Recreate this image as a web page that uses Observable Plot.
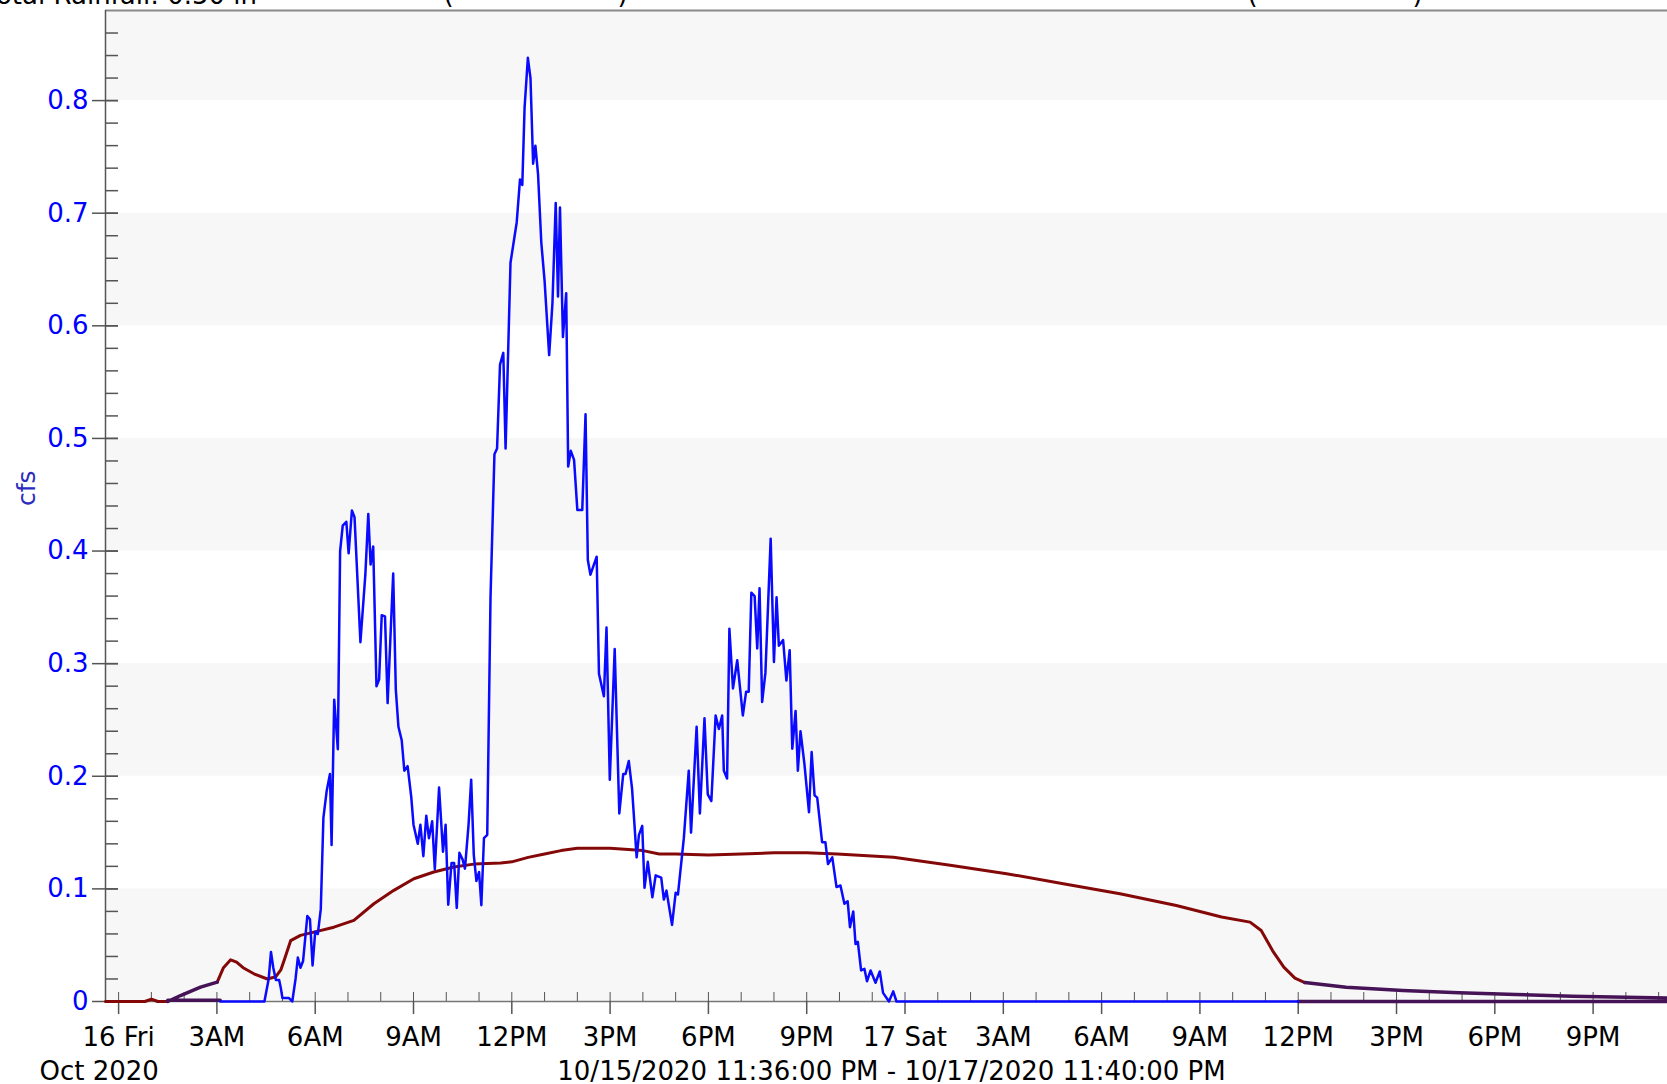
<!DOCTYPE html>
<html>
<head>
<meta charset="utf-8">
<script src="https://cdn.jsdelivr.net/npm/d3@7"></script>
<script src="https://cdn.jsdelivr.net/npm/@observablehq/plot@0.6"></script>
<style>
  html, body { margin: 0; padding: 0; background: #fff; overflow: hidden; }
  #chart { position: relative; width: 1667px; height: 1084px; }
</style>
</head>
<body>
<div id="chart"></div>
<script>
// ---- data (hours since 16 Oct 2020 00:00) ----
const flowHours = [3.1,4.45,4.58,4.65,4.72,4.80,4.90,4.95,5.0,5.2,5.30,5.40,5.47,5.55,5.63,5.76,5.84,5.92,6.0,6.08,6.17,6.25,6.35,6.45,6.50,6.58,6.69,6.76,6.84,6.95,7.02,7.12,7.20,7.38,7.53,7.62,7.69,7.77,7.87,7.95,8.03,8.13,8.21,8.31,8.38,8.46,8.54,8.64,8.72,8.82,8.93,9.0,9.13,9.21,9.30,9.39,9.47,9.57,9.65,9.78,9.90,9.98,10.06,10.16,10.24,10.32,10.40,10.50,10.57,10.68,10.76,10.84,10.92,11.0,11.07,11.15,11.25,11.35,11.47,11.55,11.64,11.74,11.81,11.96,12.15,12.25,12.32,12.39,12.49,12.57,12.65,12.72,12.8,12.9,13.0,13.14,13.24,13.34,13.41,13.47,13.56,13.66,13.72,13.80,13.9,14.0,14.15,14.25,14.32,14.40,14.59,14.66,14.81,14.89,14.99,15.14,15.28,15.40,15.47,15.57,15.67,15.81,15.88,15.98,16.05,16.15,16.29,16.39,16.56,16.64,16.72,16.89,17.0,17.07,17.25,17.40,17.47,17.64,17.74,17.88,17.98,18.09,18.22,18.32,18.42,18.47,18.57,18.64,18.75,18.88,19.05,19.15,19.23,19.31,19.41,19.49,19.56,19.64,19.74,19.9,20.0,20.08,20.15,20.28,20.38,20.48,20.56,20.66,20.73,20.81,20.93,21.07,21.15,21.24,21.32,21.47,21.57,21.65,21.78,21.91,22.03,22.15,22.25,22.32,22.42,22.49,22.56,22.66,22.76,22.84,22.95,23.1,23.23,23.33,23.51,23.64,23.74,36.0];
const flowCfs = [0,0,0.02,0.044,0.03,0.019,0.019,0.012,0.003,0.003,0,0.02,0.039,0.030,0.036,0.076,0.073,0.032,0.062,0.060,0.082,0.163,0.187,0.202,0.139,0.268,0.224,0.400,0.4225,0.426,0.398,0.436,0.430,0.319,0.379,0.433,0.388,0.404,0.280,0.286,0.343,0.342,0.265,0.333,0.380,0.277,0.244,0.232,0.205,0.209,0.182,0.157,0.140,0.157,0.129,0.165,0.145,0.160,0.1175,0.190,0.133,0.157,0.086,0.123,0.123,0.083,0.132,0.126,0.118,0.157,0.197,0.13,0.107,0.115,0.0855,0.145,0.148,0.359,0.486,0.491,0.5655,0.576,0.491,0.656,0.692,0.730,0.725,0.794,0.838,0.82,0.744,0.760,0.735,0.674,0.64,0.574,0.62,0.709,0.626,0.705,0.590,0.629,0.475,0.489,0.481,0.4365,0.4365,0.5215,0.392,0.379,0.395,0.291,0.271,0.332,0.197,0.313,0.167,0.202,0.202,0.2135,0.189,0.128,0.148,0.156,0.101,0.124,0.0926,0.112,0.110,0.0905,0.0985,0.068,0.0965,0.095,0.145,0.205,0.15,0.244,0.167,0.2515,0.184,0.178,0.254,0.242,0.254,0.205,0.198,0.331,0.278,0.303,0.254,0.275,0.275,0.363,0.360,0.3135,0.367,0.266,0.292,0.411,0.3015,0.359,0.316,0.321,0.285,0.312,0.2245,0.258,0.205,0.240,0.211,0.168,0.2215,0.183,0.181,0.1415,0.1415,0.122,0.128,0.1016,0.103,0.0868,0.089,0.066,0.080,0.051,0.053,0.0276,0.029,0.018,0.0276,0.0166,0.0267,0.0077,0,0.009,0,0];

const secondHours = [-0.4,0.8,1.0,1.2,1.5, NaN, 3.01,3.2,3.42,3.6,3.8,4.13,4.54,4.8,4.95,5.05,5.25,5.55,5.96,6.57,7.18,7.79,8.4,9.01,9.62,10.23,10.84,11.66,12.0,12.5,13,13.5,14,15,16,16.5,17,18,19,20,21,21.93,23.65,25.38,27.1,28.83,30.56,32.28,33.66,34.53,34.87,35.22,35.56,35.9,36.2];
const secondCfs = [0,0,0.002,0,0, NaN, 0.0172,0.03,0.037,0.035,0.03,0.0246,0.020,0.022,0.028,0.0364,0.054,0.0587,0.0616,0.066,0.072,0.0868,0.0987,0.109,0.115,0.1194,0.122,0.123,0.124,0.128,0.131,0.134,0.136,0.136,0.134,0.131,0.131,0.130,0.131,0.132,0.132,0.131,0.128,0.121,0.1135,0.1046,0.0957,0.0853,0.075,0.0705,0.063,0.045,0.0305,0.0207,0.0168];

const thirdHours = [1.5,1.89,2.5,3.01, NaN, 1.5,3.1, NaN, 36.2,37.46,39.19,40.91,42.64,44.36,47.3, NaN, 36.0,47.3];
const thirdCfs   = [0,0.0053,0.0127,0.0172, NaN, 0.001,0.001, NaN, 0.0168,0.0127,0.0098,0.0077,0.0062,0.0047,0.003, NaN, 0,0];

const yMajorTicks = [0,0.1,0.2,0.3,0.4,0.5,0.6,0.7,0.8];
const yMajorLabels = ["0","0.1","0.2","0.3","0.4","0.5","0.6","0.7","0.8"];
const yMinorTicks = d3.range(0, 0.87, 0.02).map(v => +v.toFixed(2));
const bandLow  = [0,0.2,0.4,0.6,0.8];
const bandHigh = [0.1,0.3,0.5,0.7,0.88];

const xMajorHours = [0,3,6,9,12,15,18,21,24,27,30,33,36,39,42,45];
const xMajorLabels = ["16 Fri","3AM","6AM","9AM","12PM","3PM","6PM","9PM","17 Sat","3AM","6AM","9AM","12PM","3PM","6PM","9PM"];
const xMinorHours = d3.range(0, 48, 1);

const startHour = -0.4, endHour = 47.27, yTop = 0.88;
const dateRange = "10/15/2020 11:36:00 PM - 10/17/2020 11:40:00 PM";
const monthLabel = "Oct 2020";
const unitLabel = "cfs";
const topLeftText = "Total Rainfall: 0.50 in";
const topBrackets = ["(", ")", "(", ")"];
const topBracketX = [443, 617, 1247, 1412];

// ---- build ----
const base = Date.UTC(2020, 9, 16, 0, 0);
const toDate = h => isNaN(h) ? null : new Date(base + h * 3600000);
const pts = (hs, vs) => hs.map((h, i) => ({t: toDate(h), v: vs[i]}));
const flow = pts(flowHours, flowCfs);
const second = pts(secondHours, secondCfs);
const third = pts(thirdHours, thirdCfs);
const bands = bandLow.map((lo, i) => ({lo, hi: bandHigh[i]}));
const xStart = toDate(startHour), xEnd = toDate(endHour);

const W = 1667, H = 1084, mL = 105, mR = 0, mT = 10, mB = 83;
const plotW = W - mL - mR, plotH = H - mT - mB;
const font = "DejaVu Sans";

const marks = [
  Plot.rect(bands, {x1: () => xStart, x2: () => xEnd, y1: "lo", y2: "hi", fill: "#f7f7f7"}),
  Plot.ruleY([yTop], {stroke: "#8a8a8a", strokeWidth: 2}),
  Plot.ruleX([xStart], {stroke: "#555", strokeWidth: 1.5}),
  Plot.ruleY([0], {stroke: "#777", strokeWidth: 1.5}),
  Plot.ruleY(yMinorTicks, {insetRight: plotW - 13, stroke: "#555", strokeWidth: 1.5}),
  Plot.ruleY(yMajorTicks, {insetLeft: -13, insetRight: plotW - 13, stroke: "#555", strokeWidth: 1.5}),
  Plot.text(yMajorTicks, {y: d => d, text: (d, i) => yMajorLabels[i], frameAnchor: "left", dx: -17, textAnchor: "end", fontSize: 26, fill: "#0000ff"}),
  Plot.text([unitLabel], {frameAnchor: "left", dx: -79, rotate: -90, fontSize: 25, fill: "#2b2bc0"}),
  Plot.ruleX(xMinorHours.map(toDate), {insetTop: plotH - 9, stroke: "#555", strokeWidth: 1}),
  Plot.ruleX(xMajorHours.map(toDate), {insetTop: plotH, insetBottom: -13, stroke: "#555", strokeWidth: 1.5}),
  Plot.text(xMajorHours, {x: d => toDate(d), text: (d, i) => xMajorLabels[i], frameAnchor: "bottom", dy: 44, fontSize: 26, fill: "#000"}),
  Plot.text([monthLabel], {frameAnchor: "bottom-left", dx: 39 - mL, dy: 78, textAnchor: "start", fontSize: 26, fill: "#000"}),
  Plot.text([dateRange], {frameAnchor: "bottom", dx: 891 - (mL + W) / 2, dy: 78, fontSize: 26, fill: "#000"}),
  Plot.text([topLeftText], {frameAnchor: "top-left", dx: -16 - mL, dy: -25, textAnchor: "start", fontSize: 26, fill: "#000"})
];
topBrackets.forEach((b, i) => {
  marks.push(Plot.text([b], {frameAnchor: "top-left", dx: topBracketX[i] - mL, dy: -26, fontSize: 26, fill: "#000"}));
});
marks.push(
  Plot.line(second, {x: "t", y: "v", stroke: "#850808", strokeWidth: 3, defined: d => d.t != null}),
  Plot.line(third, {x: "t", y: "v", stroke: "#461456", strokeWidth: 3.5, defined: d => d.t != null}),
  Plot.line(flow, {x: "t", y: "v", stroke: "#0a0aff", strokeWidth: 2.5})
);

const chart = Plot.plot({
  width: W, height: H,
  marginLeft: mL, marginRight: mR, marginTop: mT, marginBottom: mB,
  style: {fontFamily: font, background: "#fff", overflow: "hidden"},
  x: {type: "utc", domain: [xStart, xEnd], axis: null},
  y: {domain: [0, yTop], axis: null},
  marks
});
document.getElementById("chart").appendChild(chart);
</script>
</body>
</html>
